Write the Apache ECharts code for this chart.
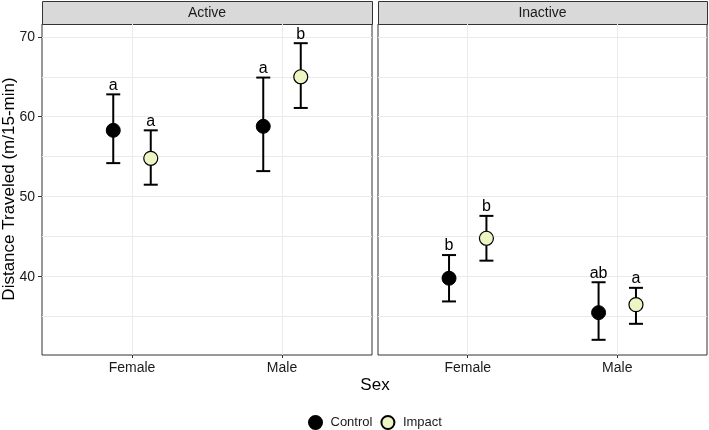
<!DOCTYPE html>
<html>
<head>
<meta charset="utf-8">
<script src="https://cdn.jsdelivr.net/npm/echarts@6/dist/echarts.min.js"></script>
<style>
  html, body { margin: 0; padding: 0; background: #fff; }
</style>
</head>
<body>
<div id="chart" style="width: 709px; height: 430px;"></div>
<script>
// data
const panels = ['Active', 'Inactive'];
const sexes = ['Female', 'Male'];
// per panel: [Female, Male]
const controlMean = [[58.3, 58.8], [39.8, 35.5]];
const controlLow = [[54.2, 53.2], [36.9, 32.1]];
const controlHigh = [[62.8, 64.9], [42.7, 39.3]];
const impactMean = [[54.8, 65.0], [44.8, 36.5]];
const impactLow = [[51.5, 61.1], [42.0, 34.1]];
const impactHigh = [[58.3, 69.2], [47.6, 38.6]];
const controlLetters = [['a', 'a'], ['b', 'ab']];
const impactLetters = [['a', 'b'], ['b', 'a']];
const yTicks = [40, 50, 60, 70];
const yGrid = [35, 40, 45, 50, 55, 60, 65, 70];

const dodge = 0.125;
const font = 'Liberation Sans, Arial, sans-serif';
const impactColor = '#eef5c4';

const myChart = echarts.init(document.getElementById('chart'));

function errorBar(params, api) {
  const x = api.value(0);
  const top = api.coord([x, api.value(2)]);
  const bot = api.coord([x, api.value(1)]);
  const cap = 7;
  const style = { stroke: '#000', lineWidth: 2 };
  return {
    type: 'group',
    children: [
      { type: 'line', shape: { x1: top[0], y1: top[1], x2: bot[0], y2: bot[1] }, style },
      { type: 'line', shape: { x1: top[0] - cap, y1: top[1], x2: top[0] + cap, y2: top[1] }, style },
      { type: 'line', shape: { x1: bot[0] - cap, y1: bot[1], x2: bot[0] + cap, y2: bot[1] }, style },
      {
        type: 'text',
        x: top[0], y: top[1] - 1,
        style: {
          text: api.value(3), fill: '#000', font: '16px ' + font,
          textAlign: 'center', textVerticalAlign: 'bottom'
        }
      }
    ]
  };
}

const grids = [
  { left: 42, top: 24, width: 330, height: 331 },
  { left: 378, top: 24, width: 329, height: 331 }
].map(g => ({ ...g, show: true, borderColor: '#333', borderWidth: 1, backgroundColor: '#fff' }));

const xAxes = panels.map((p, i) => ({
  type: 'value', gridIndex: i, min: 0.4, max: 2.6,
  axisLine: { show: false },
  splitLine: { show: false },
  axisTick: { show: true, customValues: [1, 2], length: 3, lineStyle: { color: '#333' } },
  axisLabel: {
    customValues: [1, 2], margin: 6,
    formatter: v => sexes[Math.round(v) - 1] || '',
    color: '#1a1a1a', fontSize: 14, fontFamily: font
  }
}));

const yAxes = panels.map((p, i) => ({
  type: 'value', gridIndex: i, min: 30.2, max: 71.6,
  axisLine: { show: false },
  splitLine: { show: false },
  axisTick: { show: i === 0, customValues: yTicks, length: 4, lineStyle: { color: '#333' } },
  axisLabel: {
    show: i === 0, customValues: yTicks, margin: 7,
    color: '#1a1a1a', fontSize: 14, fontFamily: font
  }
}));

const series = [];
panels.forEach((p, i) => {
  // gridlines
  series.push({
    type: 'scatter', name: 'grid' + i, xAxisIndex: i, yAxisIndex: i, data: [], z: 1,
    silent: true,
    markLine: {
      silent: true, symbol: 'none', label: { show: false }, animation: false, z: 1,
      lineStyle: { color: '#ebebeb', width: 1, type: 'solid' },
      data: yGrid.map(v => ({ yAxis: v })).concat([{ xAxis: 1 }, { xAxis: 2 }])
    }
  });
  series.push({
    type: 'custom', name: 'bars' + i, xAxisIndex: i, yAxisIndex: i, z: 3,
    renderItem: errorBar,
    encode: { x: 0, y: [1, 2] },
    data: sexes.map((s, j) => [j + 1 - dodge, controlLow[i][j], controlHigh[i][j], controlLetters[i][j]])
      .concat(sexes.map((s, j) => [j + 1 + dodge, impactLow[i][j], impactHigh[i][j], impactLetters[i][j]]))
  });
  series.push({
    type: 'scatter', name: 'Control', xAxisIndex: i, yAxisIndex: i, z: 4,
    symbolSize: 14,
    itemStyle: { color: '#000', borderColor: '#000', borderWidth: 1, opacity: 1 },
    data: sexes.map((s, j) => [j + 1 - dodge, controlMean[i][j]])
  });
  series.push({
    type: 'scatter', name: 'Impact', xAxisIndex: i, yAxisIndex: i, z: 4,
    symbolSize: 14,
    itemStyle: { color: impactColor, borderColor: '#000', borderWidth: 1.2, opacity: 1 },
    data: sexes.map((s, j) => [j + 1 + dodge, impactMean[i][j]])
  });
});

const strips = [];
grids.forEach((g, i) => {
  strips.push({
    type: 'rect', left: g.left, top: 1,
    shape: { width: g.width, height: 23 },
    style: { fill: '#d9d9d9', stroke: '#333', lineWidth: 1 }
  });
  strips.push({
    type: 'text', x: g.left + g.width / 2, y: 13,
    style: { text: panels[i], fill: '#1a1a1a', font: '14px ' + font, textAlign: 'center', textVerticalAlign: 'middle' }
  });
});

const option = {
  animation: false,
  grid: grids,
  xAxis: xAxes,
  yAxis: yAxes,
  legend: {
    data: ['Control', 'Impact'],
    left: 303, top: 410,
    icon: 'circle', itemWidth: 20, itemHeight: 13, itemGap: 8,
    textStyle: { color: '#1a1a1a', fontSize: 13, fontFamily: font }
  },
  graphic: strips.concat([
    {
      type: 'text', x: 9, y: 189, rotation: Math.PI / 2,
      style: { text: 'Distance Traveled (m/15-min)', fill: '#000', font: '17px ' + font, textAlign: 'center', textVerticalAlign: 'middle' }
    },
    {
      type: 'text', x: 375, y: 385,
      style: { text: 'Sex', fill: '#000', font: '17px ' + font, textAlign: 'center', textVerticalAlign: 'middle' }
    }
  ]),
  series: series
};

myChart.setOption(option);
window.addEventListener('resize', function () {
  myChart.resize();
});
</script>
</body>
</html>
